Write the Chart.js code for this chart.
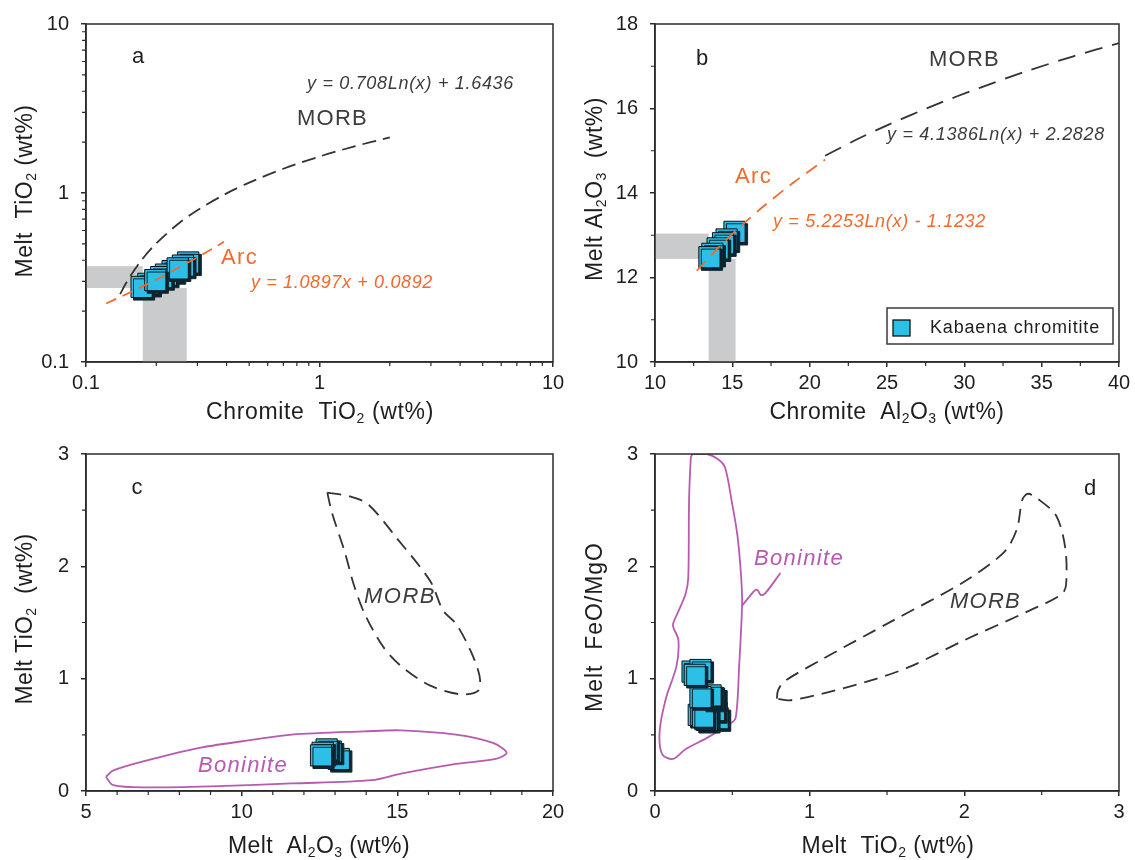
<!DOCTYPE html>
<html>
<head>
<meta charset="utf-8">
<script src="https://cdn.jsdelivr.net/npm/chart.js@4.4.1/dist/chart.umd.min.js"></script>
<style>
  body { margin: 0; background: #fff; width: 1135px; height: 860px; position: relative; overflow: hidden; }
  canvas { position: absolute; }
</style>
</head>
<body>
<canvas id="pa" width="570" height="430" style="left:0;top:0"></canvas>
<canvas id="pb" width="565" height="430" style="left:570px;top:0"></canvas>
<canvas id="pc" width="570" height="430" style="left:0;top:430px"></canvas>
<canvas id="pd" width="565" height="430" style="left:570px;top:430px"></canvas>
<script>
// --- (a) chromite TiO2 vs melt TiO2, log-log ---
const aChromiteTiO2 = [0.274, 0.26, 0.235, 0.22, 0.21, 0.185, 0.173, 0.247, 0.198];
const aMeltTiO2 = [0.388, 0.372, 0.345, 0.329, 0.318, 0.29, 0.278, 0.358, 0.305];
const aMorbX = [0.14, 0.15, 0.17, 0.2, 0.25, 0.3, 0.4, 0.5, 0.7, 1, 1.4, 2];
const aMorbY = [0.252, 0.300, 0.389, 0.504, 0.662, 0.791, 0.995, 1.153, 1.391, 1.644, 1.882, 2.134];
const aArcX = [0.122, 0.15, 0.2, 0.25, 0.3, 0.39];
const aArcY = [0.222, 0.253, 0.307, 0.362, 0.416, 0.514];
const aRangeX = [0.175, 0.27];
const aRangeY = [0.274, 0.369];
const aMajor = [0.1, 1, 10];
const aMinor = [0.2, 0.3, 0.4, 0.5, 0.6, 0.7, 0.8, 0.9, 2, 3, 4, 5, 6, 7, 8, 9];

// --- (b) chromite Al2O3 vs melt Al2O3 ---
const bChromiteAl2O3 = [15.14, 14.63, 14.4, 14.05, 13.71, 13.52];
const bMeltAl2O3 = [13.08, 12.9, 12.81, 12.69, 12.56, 12.48];
const bMorbX = [21, 23, 25, 28, 31, 34, 37, 40];
const bMorbY = [14.88, 15.26, 15.60, 16.07, 16.49, 16.88, 17.23, 17.55];
const bArcX = [12.7, 14, 15.5, 17, 19, 21];
const bArcY = [12.16, 12.67, 13.20, 13.68, 14.26, 14.79];
const bRangeX = [13.47, 15.21];
const bRangeY = [12.44, 13.04];
const bMajorX = [10, 15, 20, 25, 30, 35, 40];
const bMinorX = [12.5, 17.5, 22.5, 27.5, 32.5, 37.5];
const bMajorY = [10, 12, 14, 16, 18];
const bMinorY = [11, 13, 15, 17];

// --- (c) melt Al2O3 vs melt TiO2 ---
const cMeltAl2O3 = [13.12, 12.86, 12.73, 12.6, 12.55];
const cMeltTiO2 = [0.285, 0.351, 0.37, 0.34, 0.317];
const cMorbX = [12.75, 13.48, 14.07, 15.0, 16.06, 16.47, 16.88, 17.34, 17.64, 17.6, 17.05, 16.06, 15.12, 14.54, 13.95, 13.6, 13.31, 12.9, 12.75];
const cMorbY = [2.657, 2.622, 2.55, 2.245, 1.867, 1.606, 1.49, 1.257, 1.025, 0.894, 0.86, 0.938, 1.112, 1.286, 1.577, 1.838, 2.129, 2.477, 2.657];
const cBonX = [5.64, 5.88, 6.93, 8.69, 10.44, 11.61, 13.95, 15.12, 16.88, 18.05, 18.51, 18.16, 16.88, 15.12, 14.18, 11.61, 9.27, 6.93, 5.88, 5.64];
const cBonY = [0.125, 0.183, 0.27, 0.386, 0.459, 0.502, 0.531, 0.54, 0.502, 0.43, 0.343, 0.285, 0.241, 0.154, 0.096, 0.067, 0.044, 0.032, 0.052, 0.125];
const cMajorX = [5, 10, 15, 20];
const cMinorX = [6, 7, 8, 9, 11, 12, 13, 14, 16, 17, 18, 19];
const cMajorY = [0, 1, 2, 3];
const cMinorY = [0.5, 1.5, 2.5];

// --- (d) melt TiO2 vs melt FeO/MgO ---
const dMeltTiO2 = [0.405, 0.382, 0.336, 0.283, 0.31, 0.382, 0.359, 0.294, 0.243, 0.294, 0.257];
const dFeOMgO = [0.648, 0.72, 0.633, 0.677, 0.662, 0.822, 0.851, 0.836, 1.063, 1.077, 1.034];
const dMorbX = [0.788, 0.795, 0.834, 1.077, 1.541, 2.004, 2.259, 2.34, 2.375, 2.41, 2.468, 2.595, 2.653, 2.658, 2.63, 2.421, 2.004, 1.657, 1.425, 1.077, 0.869, 0.788];
const dMorbY = [0.822, 0.894, 0.973, 1.17, 1.519, 1.867, 2.129, 2.332, 2.593, 2.646, 2.608, 2.448, 2.158, 1.838, 1.751, 1.606, 1.345, 1.112, 0.996, 0.865, 0.807, 0.822];
const dBonX = [0.243, 0.336, 0.405, 0.452, 0.498, 0.533, 0.556, 0.563, 0.544, 0.521, 0.475, 0.336, 0.197, 0.116, 0.046, 0.030, 0.070, 0.139, 0.151, 0.116, 0.139, 0.197, 0.215, 0.220, 0.232, 0.243];
const dBonY = [3.0, 3.0, 2.956, 2.884, 2.564, 2.274, 1.925, 1.664, 1.112, 0.648, 0.590, 0.473, 0.372, 0.285, 0.328, 0.531, 0.822, 1.112, 1.345, 1.475, 1.562, 1.751, 1.896, 2.564, 2.971, 3.0];
const dLeaderX = [0.563, 0.614, 0.649, 0.665, 0.684, 0.711, 0.811];
const dLeaderY = [1.649, 1.737, 1.789, 1.786, 1.745, 1.757, 1.94];
const dMajor = [0, 1, 2, 3];
const dMinor = [0.5, 1.5, 2.5];

const FONT = '"Liberation Sans", Arial, sans-serif';
const INK = '#1e1e1e';
const AXIS = '#2b2b2b';
const GREY_TXT = '#3c3c3c';
const CYAN = '#2cbfe8';
const ORANGE = '#f06a2c';
const MAGENTA = '#b65bb0';
const DASHED = '#333333';
const BAND = '#c9cbcc';

Chart.defaults.font.family = FONT;

function xy(xs, ys) {
    return xs.map((x, i) => ({ x: x, y: ys[i] }));
}

function curve(xs, ys, color, dash, tension, order) {
    return {
        data: xy(xs, ys), showLine: true, pointRadius: 0, borderColor: color,
        borderWidth: 1.8, borderDash: dash, tension: tension, fill: false, order: order
    };
}

function squares(xs, ys) {
    return {
        label: 'Kabaena chromitite', data: xy(xs, ys), showLine: false,
        pointStyle: 'rect', pointRadius: 15, backgroundColor: CYAN,
        borderColor: '#111', borderWidth: 1, order: 1, shadow: true
    };
}

function axis(o, dir) {
    return {
        type: o.log ? 'logarithmic' : 'linear',
        min: o.major[0],
        max: o.major[o.major.length - 1],
        afterBuildTicks: s => { s.ticks = o.major.map(v => ({ value: v })); },
        afterFit: s => { if (dir === 'x') s.height = o.size; else s.width = o.size; },
        grid: { drawOnChartArea: false, drawTicks: true, tickLength: 5, color: AXIS, lineWidth: 1.5 },
        border: { display: true, color: AXIS, width: 1.5 },
        ticks: {
            autoSkip: false, maxRotation: 0, padding: dir === 'x' ? 4 : 12,
            color: INK, font: { family: FONT, size: 20 },
            callback: v => String(v)
        }
    };
}

// free text; when w is given the letter spacing is stretched to that width
function note(ctx, n) {
    ctx.font = (n.italic ? 'italic ' : '') + n.size + 'px ' + FONT;
    ctx.fillStyle = n.color;
    ctx.textBaseline = 'middle';
    ctx.textAlign = n.center ? 'center' : 'left';
    ctx.letterSpacing = '0px';
    let sp = 0;
    if (n.w) sp = (n.w - ctx.measureText(n.t).width) / n.t.length;
    ctx.letterSpacing = sp + 'px';
    ctx.fillText(n.t, n.x, n.y);
    ctx.letterSpacing = '0px';
}

// axis title: parts alternate normal / subscript
function title(ctx, segs, cx, cy, w, vertical) {
    const size = 23, sub = 14;
    ctx.save();
    ctx.translate(cx, cy);
    if (vertical) ctx.rotate(-Math.PI / 2);
    ctx.fillStyle = INK;
    ctx.textAlign = 'left';
    ctx.textBaseline = 'alphabetic';
    ctx.letterSpacing = '0px';
    const parts = segs.map((t, i) => {
        const isSub = i % 2 === 1;
        ctx.font = (isSub ? sub : size) + 'px ' + FONT;
        return { t: t, sub: isSub, w: ctx.measureText(t).width };
    });
    let natural = 0, n = 0;
    parts.forEach(p => { natural += p.w; n += p.t.length; });
    const sp = (w - natural) / n;
    let x = -w / 2;
    parts.forEach(p => {
        ctx.font = (p.sub ? sub : size) + 'px ' + FONT;
        ctx.letterSpacing = sp + 'px';
        ctx.fillText(p.t, x, size * 0.36 + (p.sub ? 4 : 0));
        x += p.w + sp * p.t.length;
    });
    ctx.letterSpacing = '0px';
    ctx.restore();
}

function decor(p) {
    return {
        id: 'decor',
        beforeDatasetsDraw(chart) {
            if (!p.bands) return;
            const ctx = chart.ctx, xs = chart.scales.x, ys = chart.scales.y;
            ctx.save();
            ctx.fillStyle = BAND;
            p.bands.forEach(b => {
                const x0 = xs.getPixelForValue(b.x[0]), x1 = xs.getPixelForValue(b.x[1]);
                const y0 = ys.getPixelForValue(b.y[0]), y1 = ys.getPixelForValue(b.y[1]);
                ctx.fillRect(Math.min(x0, x1), Math.min(y0, y1), Math.abs(x1 - x0), Math.abs(y1 - y0));
            });
            ctx.restore();
        },
        beforeDatasetDraw(chart, args) {
            if (!chart.data.datasets[args.index].shadow) return;
            const ctx = chart.ctx;
            ctx.save();
            ctx.shadowColor = '#0c2733';
            ctx.shadowOffsetX = 2.5;
            ctx.shadowOffsetY = 2.5;
            ctx.shadowBlur = 0;
        },
        afterDatasetDraw(chart, args) {
            if (chart.data.datasets[args.index].shadow) chart.ctx.restore();
        },
        afterDraw(chart) {
            const ctx = chart.ctx, a = chart.chartArea;
            const xs = chart.scales.x, ys = chart.scales.y;
            ctx.save();
            ctx.strokeStyle = AXIS;
            ctx.lineWidth = 1.5;
            ctx.strokeRect(a.left, a.top, a.right - a.left, a.bottom - a.top);

            ctx.lineWidth = 1.2;
            ctx.beginPath();
            p.minorX.forEach(v => {
                const px = xs.getPixelForValue(v);
                ctx.moveTo(px, a.bottom); ctx.lineTo(px, a.bottom + 4);
            });
            p.minorY.forEach(v => {
                const py = ys.getPixelForValue(v);
                ctx.moveTo(a.left - 4, py); ctx.lineTo(a.left, py);
            });
            ctx.stroke();

            title(ctx, p.xTitle.segs, p.xTitle.x, p.xTitle.y, p.xTitle.w, false);
            title(ctx, p.yTitle.segs, p.yTitle.x, p.yTitle.y, p.yTitle.w, true);
            p.notes.forEach(n => note(ctx, n));

            if (p.legend) {
                const L = p.legend;
                const ds = chart.data.datasets.find(d => d.shadow);
                ctx.fillStyle = '#fff';
                ctx.fillRect(L.x, L.y, L.w, L.h);
                ctx.strokeStyle = '#3a3a3a';
                ctx.lineWidth = 1.5;
                ctx.strokeRect(L.x, L.y, L.w, L.h);
                ctx.fillStyle = ds.backgroundColor;
                ctx.fillRect(L.x + 6, L.y + 12, 17, 16);
                ctx.strokeStyle = '#111';
                ctx.lineWidth = 1.3;
                ctx.strokeRect(L.x + 6, L.y + 12, 17, 16);
                note(ctx, { t: ds.label, x: L.x + 43, y: L.y + 20, size: 18, color: INK, w: 170 });
            }
            ctx.restore();
        }
    };
}

function panel(id, opt) {
    return new Chart(document.getElementById(id), {
        type: 'scatter',
        data: { datasets: opt.datasets },
        options: {
            responsive: false,
            maintainAspectRatio: false,
            animation: false,
            events: [],
            layout: { padding: opt.pad },
            plugins: { legend: { display: false }, tooltip: { enabled: false } },
            scales: { x: axis(opt.x, 'x'), y: axis(opt.y, 'y') }
        },
        plugins: [decor(opt.decor)]
    });
}

panel('pa', {
    pad: { top: 17, right: 17, left: 0, bottom: 0 },
    x: { log: true, major: aMajor, size: 68 },
    y: { log: true, major: aMajor, size: 86 },
    datasets: [
        curve(aArcX, aArcY, ORANGE, [11, 7], 0, 0),
        curve(aMorbX, aMorbY, DASHED, [14, 7], 0.3, 0),
        squares(aChromiteTiO2, aMeltTiO2)
    ],
    decor: {
        bands: [
            { x: [aMajor[0], aRangeX[0]], y: aRangeY },
            { x: aRangeX, y: [aMajor[0], aRangeY[0]] }
        ],
        minorX: aMinor, minorY: aMinor,
        xTitle: { segs: ['Chromite  TiO', '2', ' (wt%)'], x: 320, y: 411, w: 228 },
        yTitle: { segs: ['Melt  TiO', '2', ' (wt%)'], x: 24, y: 191, w: 173 },
        notes: [
            { t: 'a', x: 138, y: 57, size: 22, color: INK, center: true },
            { t: 'y = 0.708Ln(x) + 1.6436', x: 307, y: 84, size: 18, italic: true, color: GREY_TXT, w: 207 },
            { t: 'MORB', x: 297, y: 119, size: 22, color: GREY_TXT, w: 71 },
            { t: 'Arc', x: 221, y: 258, size: 22, color: ORANGE, w: 37 },
            { t: 'y = 1.0897x + 0.0892', x: 251, y: 283, size: 18, italic: true, color: ORANGE, w: 182 }
        ]
    }
});

panel('pb', {
    pad: { top: 17, right: 15, left: 0, bottom: 0 },
    x: { major: bMajorX, size: 68 },
    y: { major: bMajorY, size: 85 },
    datasets: [
        curve(bArcX, bArcY, ORANGE, [13, 8], 0.3, 0),
        curve(bMorbX, bMorbY, DASHED, [18, 10], 0.3, 0),
        squares(bChromiteAl2O3, bMeltAl2O3)
    ],
    decor: {
        bands: [
            { x: [bMajorX[0], bRangeX[0]], y: bRangeY },
            { x: bRangeX, y: [bMajorY[0], bRangeY[0]] }
        ],
        minorX: bMinorX, minorY: bMinorY,
        xTitle: { segs: ['Chromite  Al', '2', 'O', '3', ' (wt%)'], x: 317, y: 411, w: 235 },
        yTitle: { segs: ['Melt Al', '2', 'O', '3', '  (wt%)'], x: 24, y: 189, w: 184 },
        notes: [
            { t: 'b', x: 132, y: 59, size: 22, color: INK, center: true },
            { t: 'MORB', x: 359, y: 60, size: 22, color: GREY_TXT, w: 71 },
            { t: 'y = 4.1386Ln(x) + 2.2828', x: 317, y: 135, size: 18, italic: true, color: GREY_TXT, w: 218 },
            { t: 'Arc', x: 165, y: 177, size: 22, color: ORANGE, w: 37 },
            { t: 'y = 5.2253Ln(x) - 1.1232', x: 203, y: 222, size: 18, italic: true, color: ORANGE, w: 213 }
        ],
        legend: { x: 317, y: 308, w: 226, h: 36 }
    }
});

panel('pc', {
    pad: { top: 17, right: 17, left: 0, bottom: 0 },
    x: { major: cMajorX, size: 69 },
    y: { major: cMajorY, size: 86 },
    datasets: [
        squares(cMeltAl2O3, cMeltTiO2),
        curve(cMorbX, cMorbY, DASHED, [14, 8], 0.3, 2),
        curve(cBonX, cBonY, MAGENTA, [], 0.3, 2)
    ],
    decor: {
        minorX: cMinorX, minorY: cMinorY,
        xTitle: { segs: ['Melt  Al', '2', 'O', '3', ' (wt%)'], x: 319, y: 415, w: 182 },
        yTitle: { segs: ['Melt TiO', '2', '  (wt%)'], x: 24, y: 189, w: 171 },
        notes: [
            { t: 'c', x: 137, y: 58, size: 22, color: INK, center: true },
            { t: 'MORB', x: 364, y: 167, size: 22, italic: true, color: GREY_TXT, w: 72 },
            { t: 'Boninite', x: 198, y: 336, size: 22, italic: true, color: MAGENTA, w: 90 }
        ]
    }
});

panel('pd', {
    pad: { top: 17, right: 15, left: 0, bottom: 0 },
    x: { major: dMajor, size: 69 },
    y: { major: dMajor, size: 85 },
    datasets: [
        squares(dMeltTiO2, dFeOMgO),
        curve(dMorbX, dMorbY, DASHED, [14, 8], 0.3, 2),
        curve(dBonX, dBonY, MAGENTA, [], 0.3, 2),
        curve(dLeaderX, dLeaderY, MAGENTA, [], 0.3, 2)
    ],
    decor: {
        minorX: dMinor, minorY: dMinor,
        xTitle: { segs: ['Melt  TiO', '2', ' (wt%)'], x: 318, y: 415, w: 173 },
        yTitle: { segs: ['Melt  FeO/MgO'], x: 24, y: 197, w: 170 },
        notes: [
            { t: 'd', x: 520, y: 59, size: 22, color: INK, center: true },
            { t: 'Boninite', x: 184, y: 129, size: 22, italic: true, color: MAGENTA, w: 90 },
            { t: 'MORB', x: 380, y: 172, size: 22, italic: true, color: GREY_TXT, w: 71 }
        ]
    }
});
</script>
</body>
</html>
